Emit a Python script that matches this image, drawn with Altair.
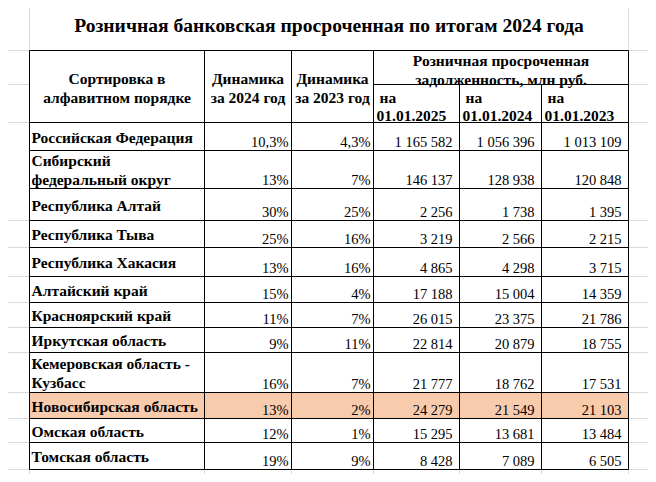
import altair as alt
import pandas as pd

# ---------------- data ----------------
title = "Розничная банковская просроченная по итогам 2024 года"
head_sort = ["Сортировка в", "алфавитном порядке"]
head_d24 = ["Динамика", "за 2024 год"]
head_d23 = ["Динамика", "за 2023 год"]
head_group = ["Розничная просроченная", "задолженность, млн руб."]
head_na = "на"
head_dates = ["01.01.2025", "01.01.2024", "01.01.2023"]

regions = [
    "Российская Федерация",
    "Сибирский|федеральный округ",
    "Республика Алтай",
    "Республика Тыва",
    "Республика Хакасия",
    "Алтайский край",
    "Красноярский край",
    "Иркутская область",
    "Кемеровская область -|Кузбасс",
    "Новосибирская область",
    "Омская область",
    "Томская область",
]
dyn_2024 = [10.3, 13, 30, 25, 13, 15, 11, 9, 16, 13, 12, 19]
dyn_2023 = [4.3, 7, 25, 16, 16, 4, 7, 11, 7, 2, 1, 9]
debt_2025 = [1165582, 146137, 2256, 3219, 4865, 17188, 26015, 22814, 21777, 24279, 15295, 8428]
debt_2024 = [1056396, 128938, 1738, 2566, 4298, 15004, 23375, 20879, 18762, 21549, 13681, 7089]
debt_2023 = [1013109, 120848, 1395, 2215, 3715, 14359, 21786, 18755, 17531, 21103, 13484, 6505]
highlight = "Новосибирская область"

# ---------------- layout ----------------
W, H = 640, 466
col_edges = [29, 204, 291, 373, 459, 541, 628]
title_y = 25
head_top, head_mid, head_bot = 50, 84, 122
row_h = [28, 38, 32, 27, 29, 26, 25, 25, 40, 26, 24, 27]
line_h = 19
FONT = "Liberation Serif"
GRID = "#DADADA"

row_edges = [head_bot]
for h in row_h:
    row_edges.append(row_edges[-1] + h)
table_bottom = row_edges[-1]
left, right = col_edges[0], col_edges[-1]

xs = alt.Scale(domain=[7.5, 7.5 + W], nice=False, zero=False)
ys = alt.Scale(domain=[7.5, 7.5 + H], nice=False, zero=False, reverse=True)
X = lambda f: alt.X(f"{f}:Q", scale=xs, axis=None)
Y = lambda f: alt.Y(f"{f}:Q", scale=ys, axis=None)


def fmt_pct(v):
    s = f"{v:.1f}" if v != int(v) else f"{int(v)}"
    return s.replace(".", ",") + "%"


def fmt_num(v):
    return f"{v:,}".replace(",", " ")


# highlight fill
hi = regions.index(highlight)
hl_df = pd.DataFrame([{"x": left, "x2": right, "y": row_edges[hi], "y2": row_edges[hi + 1]}])
hl = alt.Chart(hl_df).mark_rect(color="#F8CBAD").encode(x=X("x"), x2="x2", y=Y("y"), y2="y2")

# gray sheet gridlines
grid = []
grid_rows = [head_top, head_mid, head_bot] + row_edges[3:]
for yv in grid_rows:
    grid.append({"x": 7.5, "x2": left, "y": yv, "y2": yv})
    grid.append({"x": right, "x2": 7.5 + W, "y": yv, "y2": yv})
for xv in (left, right):
    grid.append({"x": xv, "x2": xv, "y": 7.5, "y2": head_top})
for xv in col_edges:
    grid.append({"x": xv, "x2": xv, "y": table_bottom, "y2": 7.5 + H})
grid_layer = alt.Chart(pd.DataFrame(grid)).mark_rule(color=GRID, strokeWidth=1).encode(
    x=X("x"), x2="x2", y=Y("y"), y2="y2")

# black borders
b = []
for yv in [head_top, head_bot] + row_edges[1:]:
    b.append({"x": left, "x2": right, "y": yv, "y2": yv})
b.append({"x": col_edges[3], "x2": right, "y": head_mid, "y2": head_mid})
for i, xv in enumerate(col_edges):
    top = head_mid if i in (4, 5) else head_top
    b.append({"x": xv, "x2": xv, "y": top, "y2": table_bottom})
border = alt.Chart(pd.DataFrame(b)).mark_rule(color="black", strokeWidth=1).encode(
    x=X("x"), x2="x2", y=Y("y"), y2="y2")

# title
title_df = pd.DataFrame([{"x": (left + right) / 2, "y": title_y, "t": title}])
title_layer = alt.Chart(title_df).mark_text(
    font=FONT, fontSize=19.6, fontWeight="bold", color="black", baseline="middle", align="center"
).encode(x=X("x"), y=Y("y"), text="t:N")

# header centered texts
hc = []
for ci, lines in enumerate([head_sort, head_d24, head_d23]):
    cx = (col_edges[ci] + col_edges[ci + 1]) / 2
    cy = (head_top + head_bot) / 2 + 1.5
    for k, ln in enumerate(lines):
        hc.append({"x": cx, "y": cy + (k - (len(lines) - 1) / 2) * line_h, "t": ln})
gcx = (col_edges[3] + right) / 2
for k, ln in enumerate(head_group):
    hc.append({"x": gcx, "y": 60 + k * line_h, "t": ln})
hc_layer = alt.Chart(pd.DataFrame(hc)).mark_text(
    font=FONT, fontSize=15.5, fontWeight="bold", color="black", baseline="middle", align="center"
).encode(x=X("x"), y=Y("y"), text="t:N")

# sub-header left texts
hs = []
for j, d in enumerate(head_dates):
    lx = col_edges[3 + j]
    hs.append({"x": lx + 6, "y": 97, "t": head_na})
    hs.append({"x": lx + 3, "y": 115, "t": d})
hs_layer = alt.Chart(pd.DataFrame(hs)).mark_text(
    font=FONT, fontSize=15.5, fontWeight="bold", color="black", baseline="middle", align="left"
).encode(x=X("x"), y=Y("y"), text="t:N")

# row labels
rl = []
for i, name in enumerate(regions):
    lines = name.split("|")
    cy = (row_edges[i] + row_edges[i + 1]) / 2 + 1
    for k, ln in enumerate(lines):
        rl.append({"x": left + 2, "y": cy + (k - (len(lines) - 1) / 2) * line_h, "t": ln})
rl_layer = alt.Chart(pd.DataFrame(rl)).mark_text(
    font=FONT, fontSize=15.5, fontWeight="bold", color="black", baseline="middle", align="left"
).encode(x=X("x"), y=Y("y"), text="t:N")

# values
vals = []
cols = [(dyn_2024, fmt_pct, 3), (dyn_2023, fmt_pct, 3),
        (debt_2025, fmt_num, 7), (debt_2024, fmt_num, 7), (debt_2023, fmt_num, 7)]
for j, (arr, f, pad) in enumerate(cols):
    rx = col_edges[j + 2]
    for i, v in enumerate(arr):
        vals.append({"x": rx - pad, "y": row_edges[i + 1] - 3.5, "t": f(v)})
val_layer = alt.Chart(pd.DataFrame(vals)).mark_text(
    font=FONT, fontSize=14.5, color="black", baseline="alphabetic", align="right"
).encode(x=X("x"), y=Y("y"), text="t:N")

chart = alt.layer(hl, grid_layer, border, title_layer, hc_layer, hs_layer, rl_layer, val_layer).properties(
    width=W, height=H, autosize=alt.AutoSizeParams(type="none"), padding=0, background="white"
).configure_view(strokeWidth=0)

chart.save("out.html", embed_options={"renderer": "svg", "actions": False})
